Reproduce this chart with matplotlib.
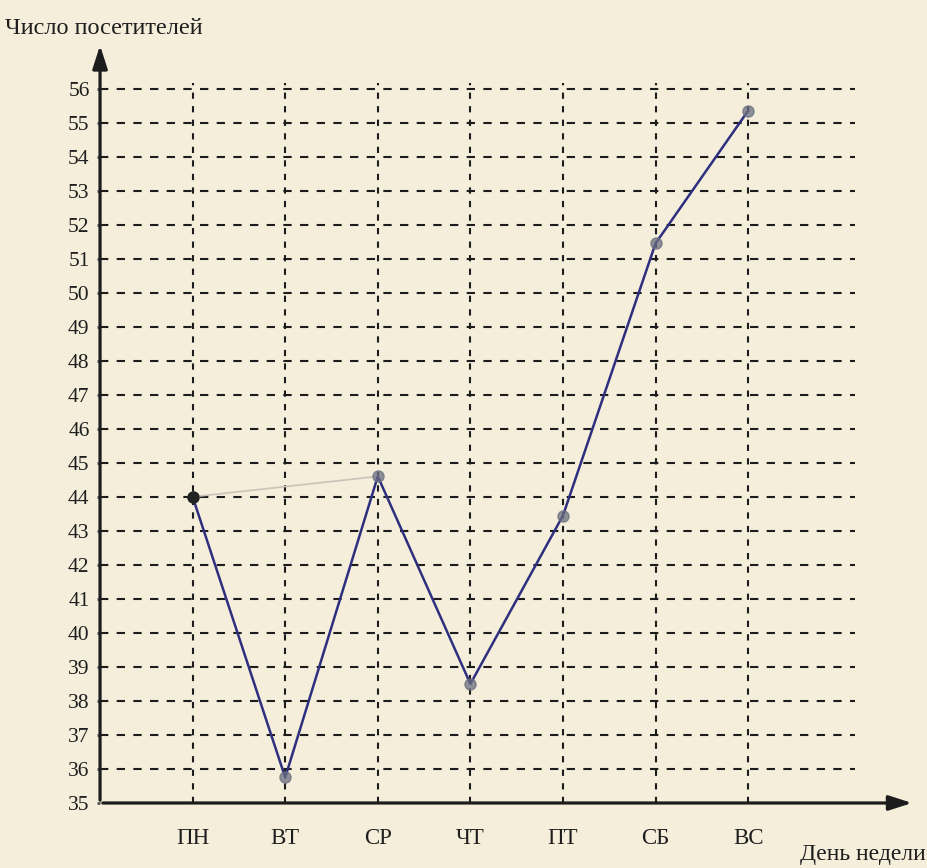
import matplotlib
matplotlib.use('Agg')
import matplotlib.pyplot as plt

# values
days = ['ПН', 'ВТ', 'СР', 'ЧТ', 'ПТ', 'СБ', 'ВС']
visitors = [44.0, 35.75, 44.6, 38.5, 43.45, 51.45, 55.35]
y_ticks = list(range(35, 57))

PAPER = '#f4eedb'
INK = '#1c1c1c'
PEN = '#2e2f7e'
TEXT = '#1e1e1e'

plt.rcParams['font.family'] = ['Liberation Serif', 'DejaVu Serif']

fig = plt.figure(figsize=(9.28, 8.68), dpi=100, facecolor=PAPER)
ax = fig.add_axes([0.1078, 0.0749, 0.878, 0.876])
ax.set_facecolor(PAPER)
xs = list(range(1, len(days) + 1))

ax.set_xlim(0, 8.8)
ax.set_ylim(35, 57.35)
for sp in ax.spines.values():
    sp.set_visible(False)

# dashed grid
for y in y_ticks[1:]:
    ax.plot([0, 8.15], [y, y], ls=(0, (4, 4)), color=INK, lw=1.5, zorder=1)
for x in xs:
    ax.plot([x, x], [35, 56.15], ls=(0, (3, 3.5)), color=INK, lw=1.5, zorder=1)

# axes with arrows
ax.annotate('', xy=(0, 57.35), xytext=(0, 35), annotation_clip=False,
            arrowprops=dict(arrowstyle='-|>,head_length=1.4,head_width=0.45',
                            color=INK, lw=2.3))
ax.annotate('', xy=(8.8, 35), xytext=(0, 35), annotation_clip=False,
            arrowprops=dict(arrowstyle='-|>,head_length=1.4,head_width=0.45',
                            color=INK, lw=2.3))

# faint pencil line and the pen line
ax.plot([xs[0], xs[2]], [visitors[0], visitors[2]], color='#c9c4b8', lw=1.2, zorder=2)
ax.plot(xs, visitors, color=PEN, lw=1.8, zorder=3)
ax.plot(xs[:1], visitors[:1], 'o', color='#222222', ms=8, zorder=4)
ax.plot(xs[1:], visitors[1:], 'o', color='#6b6f80', ms=8, alpha=0.75, zorder=4)

ax.set_yticks(y_ticks)
ax.set_yticklabels([str(v) for v in y_ticks], fontsize=15.5, color=TEXT)
ax.set_xticks(xs)
ax.set_xticklabels(days, fontsize=16.5, color=TEXT)
ax.tick_params(axis='y', length=2.5, width=2, pad=5, color='#555555')
ax.tick_params(axis='x', length=0, pad=18)

fig.text(0.005, 0.967, 'Число посетителей', fontsize=17.5, color=TEXT,
         ha='left', va='center')
fig.text(0.998, 0.015, 'День недели', fontsize=17, color=TEXT,
         ha='right', va='center')

fig.savefig('out.png', dpi=100, facecolor=PAPER)
